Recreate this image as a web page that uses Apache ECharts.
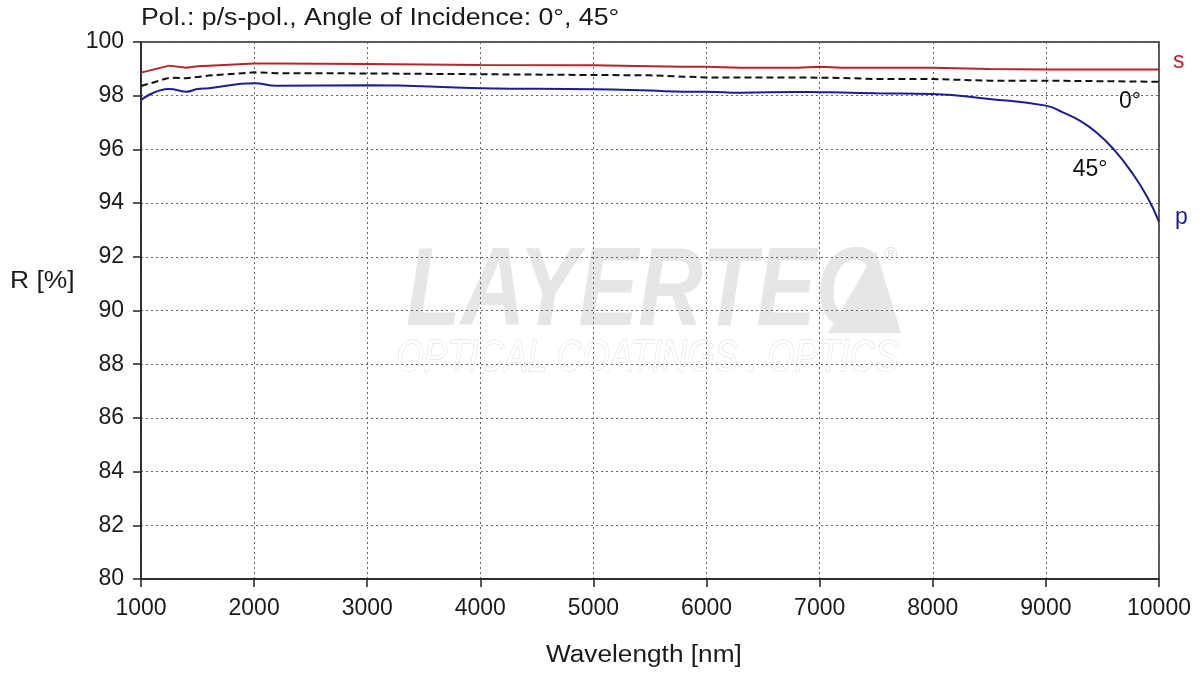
<!DOCTYPE html>
<html>
<head>
<meta charset="utf-8">
<script src="https://cdn.jsdelivr.net/npm/echarts@6/dist/echarts.min.js"></script>
<style>
html,body{margin:0;padding:0;background:#fff;}
#chart{width:1204px;height:673px;}
</style>
</head>
<body>
<div id="chart"></div>
<script>
// Data
var wavelengthSP = [1000,1250,1400,1500,1600,2000,2200,3000,4000,5000,5500,5800,6000,6300,6800,7000,7200,7500,8000,8500,9000,9500,10000];
var sPol45 = [98.86,99.12,99.04,99.10,99.12,99.20,99.20,99.18,99.14,99.13,99.10,99.08,99.08,99.04,99.04,99.08,99.04,99.04,99.04,98.99,98.98,98.98,98.98];
var avg0 = [98.36,98.67,98.65,98.70,98.75,98.87,98.84,98.83,98.80,98.77,98.76,98.71,98.68,98.68,98.68,98.67,98.66,98.62,98.62,98.56,98.56,98.54,98.52];
var wavelengthP = [1000,1250,1400,1500,1600,2000,2200,3000,4000,5000,5500,5800,6000,6300,6800,7000,7200,7500,8000,8500,9000,9150,9300,9450,9600,9750,9900,10000];
var pPol45 = [97.84,98.25,98.15,98.25,98.28,98.46,98.37,98.39,98.28,98.24,98.19,98.15,98.15,98.11,98.14,98.13,98.12,98.09,98.06,97.88,97.63,97.38,97.07,96.62,96.00,95.20,94.20,93.30];
var xTicks = [1000,2000,3000,4000,5000,6000,7000,8000,9000,10000];
var yTicks = [80,82,84,86,88,90,92,94,96,98,100];
var titleText = 'Pol.: p/s-pol., Angle of Incidence: 0°, 45°';
var xName = 'Wavelength [nm]';
var yName = 'R [%]';

function pairs(xs, ys){ return xs.map(function(x,i){ return [x, ys[i]]; }); }

var chart = echarts.init(document.getElementById('chart'));
var font = 'Liberation Sans, Arial, sans-serif';
chart.setOption({
  animation: false,
  backgroundColor: '#fff',
  grid: {left: 141, right: 45, top: 42, bottom: 94, show: true, borderColor: '#222', borderWidth: 1.5,
         containLabel: false, outerBoundsMode: 'none'},
  graphic: [
    {type: 'text', z: 10, left: 141, top: 7, scaleX: 1.16,
     style: {text: titleText, fontFamily: font, fontSize: 23, fill: '#1a1a1a'}},
    {type: 'text', z: 10, left: 10, top: 270, scaleX: 1.15,
     style: {text: yName, fontFamily: font, fontSize: 23, fill: '#1a1a1a'}},
    {type: 'text', z: 10, left: 546, top: 644, scaleX: 1.14,
     style: {text: xName, fontFamily: font, fontSize: 23, fill: '#1a1a1a'}},
    {type: 'text', z: -10, left: 406, top: 238, scaleX: 0.8,
     style: {text: 'LAYERTEC', fontFamily: font, fontStyle: 'italic', fontWeight: 'bold', fontSize: 112, fill: '#e6e6e6'}},
    {type: 'polygon', z: -10, shape: {points: [[828,333],[876,251],[901,333]]}, style: {fill: '#e6e6e6'}},
    {type: 'text', z: -10, left: 884, top: 246, style: {text: '®', fontFamily: font, fontSize: 18, fill: '#e0e0e0'}},
    {type: 'text', z: -10, left: 396, top: 336, scaleX: 0.8,
     style: {text: 'OPTICAL COATINGS . OPTICS', fontFamily: font, fontStyle: 'italic', fontSize: 44, fill: '#fff', stroke: '#d8d8d8', lineWidth: 1}}
  ],
  xAxis: {
    type: 'value', min: 1000, max: 10000, interval: 1000,
    axisLine: {show: true, onZero: false, lineStyle: {color: '#222', width: 1.5}},
    axisTick: {show: true, inside: false, length: 8, lineStyle: {color: '#222', width: 1.5}},
    axisLabel: {fontFamily: font, fontSize: 23, color: '#1a1a1a', margin: 18,
      formatter: function(v){ return xTicks.indexOf(v) >= 0 ? String(v) : ''; }},
    splitLine: {show: true, lineStyle: {color: '#666', type: [2, 3], width: 1}}
  },
  yAxis: {
    type: 'value', min: 80, max: 100, interval: 2,
    axisLine: {show: true, onZero: false, lineStyle: {color: '#222', width: 1.5}},
    axisTick: {show: true, inside: false, length: 8, lineStyle: {color: '#222', width: 1.5}},
    axisLabel: {fontFamily: font, fontSize: 23, color: '#1a1a1a', margin: 17,
      formatter: function(v){ return yTicks.indexOf(v) >= 0 ? String(v) : ''; }},
    splitLine: {show: true, lineStyle: {color: '#666', type: [2, 3], width: 1}}
  },
  series: [
    {
      name: 's', type: 'line', data: pairs(wavelengthSP, sPol45), symbol: 'none', clip: false,
      lineStyle: {color: '#b5262b', width: 2},
      endLabel: {show: true, formatter: 's', color: '#b5262b', fontFamily: font, fontSize: 23, offset: [6, -8]}
    },
    {
      name: '0°', type: 'line', data: pairs(wavelengthSP, avg0), symbol: 'none', clip: false,
      lineStyle: {color: '#111', width: 2, type: [7, 4]},
      markPoint: {
        symbol: 'circle', symbolSize: 1, itemStyle: {color: 'rgba(0,0,0,0)'},
        label: {show: true, position: 'inside', color: '#111', fontFamily: font, fontSize: 23,
          formatter: function(p){ return p.name; }},
        data: [{name: '0°', coord: [9744, 97.78]}, {name: '45°', coord: [9391, 95.23]}]
      }
    },
    {
      name: 'p', type: 'line', data: pairs(wavelengthP, pPol45), symbol: 'none', clip: false,
      smooth: 0.5,
      lineStyle: {color: '#1c1c96', width: 2},
      endLabel: {show: true, formatter: 'p', color: '#1c1c96', fontFamily: font, fontSize: 23, offset: [8, -4]}
    }
  ]
});
</script>
</body>
</html>
